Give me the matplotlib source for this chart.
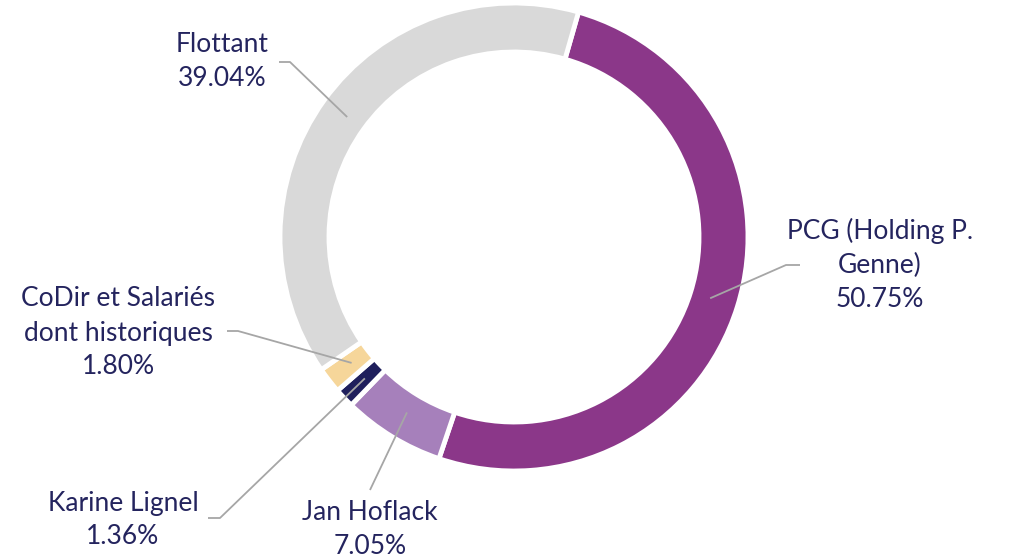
import numpy as np
import matplotlib
matplotlib.use("Agg")
import matplotlib.pyplot as plt

labels = ["PCG (Holding P.\nGenne)", "Jan Hoflack", "Karine Lignel",
          "CoDir et Salariés\ndont historiques", "Flottant"]
values = [50.75, 7.05, 1.36, 1.80, 39.04]
colors = ["#8B3789", "#A680BB", "#1F1F5C", "#F6D69A", "#D9D9D9"]

W, H = 1033, 560
fig = plt.figure(figsize=(W / 100, H / 100), dpi=100)
ax = fig.add_axes([0, 0, 1, 1])

cx, cy = 514, H - 237
R = 234
width = 49
start = 90 - 16

ax.pie(values, colors=colors, startangle=start, counterclock=False,
       center=(cx, cy), radius=R, frame=True,
       wedgeprops=dict(width=width, edgecolor="white", linewidth=3.5))
ax.set_xlim(0, W)
ax.set_ylim(0, H)
ax.set_aspect("equal")
ax.axis("off")

# label placement (pixel coords, y from top): text center, elbow, line end
label_pos = [
    dict(tx=880, ty=265, elbow=(786, 265), end=(800, 265)),
    dict(tx=370, ty=530, elbow=None, end=(370, 490)),
    dict(tx=123, ty=520, elbow=(220, 518), end=(208, 518)),
    dict(tx=118, ty=333, elbow=(238, 331), end=(227, 331)),
    dict(tx=222, ty=62, elbow=(290, 62), end=(279, 62)),
]

text_color = "#24245E"
line_color = "#A6A6A6"
font = ["Lato", "DejaVu Sans"]

total = sum(values)
cum = 0
for lab, v, p in zip(labels, values, label_pos):
    mid = start - (cum + v / 2) / total * 360
    cum += v
    rr = R - width / 2 - 4
    ax_x = cx + rr * np.cos(np.radians(mid))
    ax_y = cy + rr * np.sin(np.radians(mid))
    xs = [ax_x]
    ys = [ax_y]
    if p["elbow"] is not None:
        xs.append(p["elbow"][0]); ys.append(H - p["elbow"][1])
    xs.append(p["end"][0]); ys.append(H - p["end"][1])
    ax.plot(xs, ys, color=line_color, lw=1.3, solid_capstyle="butt", zorder=1)
    ax.text(p["tx"], H - p["ty"], f"{lab}\n{v:.2f}%", ha="center", va="center",
            color=text_color, fontsize=19, family=font, linespacing=1.45)

fig.savefig("out.png", dpi=100)
